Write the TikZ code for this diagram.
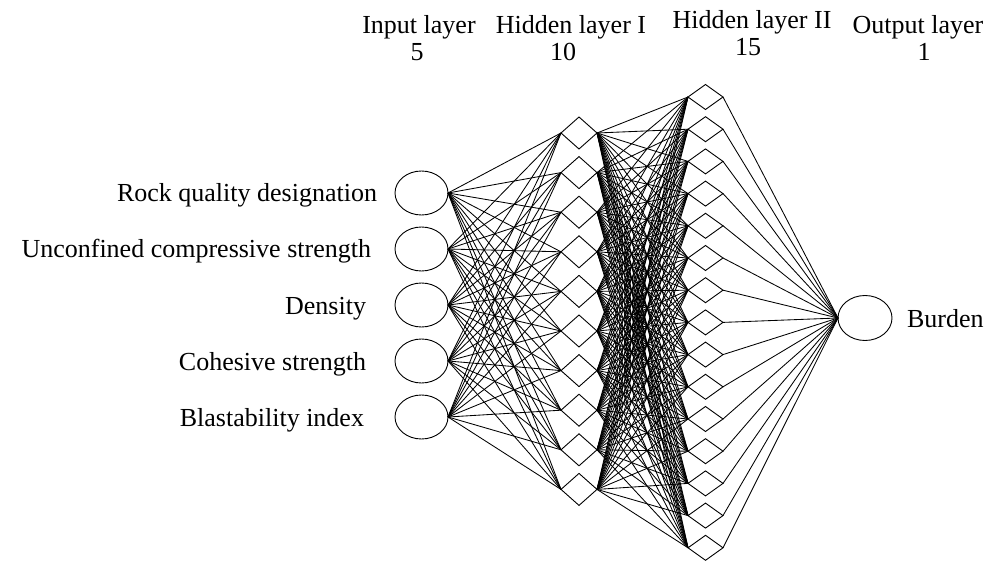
\documentclass[tikz,border=0pt]{standalone}
\usepackage{fontspec}
\setmainfont{Liberation Serif}
\usetikzlibrary{shapes.geometric}
\begin{document}
\begin{tikzpicture}[x=1pt,y=-1pt,
  neuron/.style={draw,ellipse,minimum width=53pt,minimum height=44pt,inner sep=0pt,outer sep=0pt,line width=0.9pt},
  hone/.style={draw,diamond,minimum width=36pt,minimum height=32pt,inner sep=0pt,outer sep=0pt,line width=0.9pt},
  htwo/.style={draw,diamond,minimum width=35pt,minimum height=25pt,inner sep=0pt,outer sep=0pt,line width=0.9pt},
  link/.style={line width=0.85pt},
  lbl/.style={font=\fontsize{26}{30}\selectfont,inner sep=0pt,outer sep=0pt}]
\useasboundingbox (0,0) rectangle (1006,561);
% input layer
\foreach \i in {1,...,5}{
  \node[neuron] (in\i) at (421.5,{193+56*(\i-1)}) {};
}
% hidden layer I
\foreach \j in {1,...,10}{
  \node[hone] (ha\j) at (579,{133+39.6*(\j-1)}) {};
}
% hidden layer II
\foreach \k in {1,...,15}{
  \node[htwo] (hb\k) at (705.5,{97+32.2*(\k-1)}) {};
}
% output
\node[neuron,minimum width=54pt,minimum height=45pt] (out) at (865,318) {};
% connections
\foreach \i in {1,...,5}{\foreach \j in {1,...,10}{\draw[link] (in\i.east) -- (ha\j.west);}}
\foreach \j in {1,...,10}{\foreach \k in {1,...,15}{\draw[link] (ha\j.east) -- (hb\k.west);}}
\foreach \k in {1,...,15}{\draw[link] (hb\k.east) -- (out.west);}
% input labels
\node[lbl,anchor=base east] (l1) at (377,202) {Rock quality designation};
\node[lbl,anchor=base east] (l2) at (371,258) {Unconfined compressive strength};
\node[lbl,anchor=base east] (l3) at (366,314) {Density};
\node[lbl,anchor=base east] (l4) at (366,370) {Cohesive strength};
\node[lbl,anchor=base east] (l5) at (364,426) {Blastability index};
\node[lbl,anchor=base west] (lo) at (907,327) {Burden};
% headers
\node[lbl,anchor=base] (t1) at (419,34) {Input layer};
\node[lbl,anchor=base] (n1) at (417,61) {5};
\node[lbl,anchor=base] (t2) at (571,34) {Hidden layer I};
\node[lbl,anchor=base] (n2) at (563,61) {10};
\node[lbl,anchor=base] (t3) at (752,29) {Hidden layer II};
\node[lbl,anchor=base] (n3) at (748,56) {15};
\node[lbl,anchor=base] (t4) at (918,34) {Output layer};
\node[lbl,anchor=base] (n4) at (924,61) {1};
\end{tikzpicture}
\end{document}
